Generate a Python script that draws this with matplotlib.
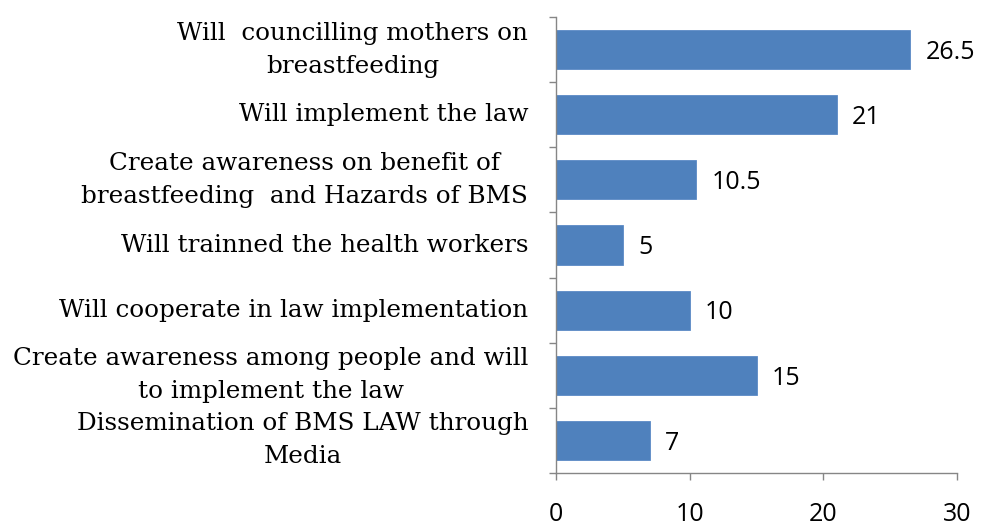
import matplotlib
matplotlib.use("Agg")
import matplotlib.pyplot as plt

categories = [
    "Will  councilling mothers on\nbreastfeeding",
    "Will implement the law",
    "Create awareness on benefit of\nbreastfeeding  and Hazards of BMS",
    "Will trainned the health workers",
    "Will cooperate in law implementation",
    "Create awareness among people and will\nto implement the law",
    "Dissemination of BMS LAW through\nMedia",
]
values = [26.5, 21, 10.5, 5, 10, 15, 7]
value_labels = ["26.5", "21", "10.5", "5", "10", "15", "7"]
xticks = [0, 10, 20, 30]

bar_color = "#4F81BD"
axis_color = "#868686"

fig = plt.figure(figsize=(9.81, 5.28), dpi=100)
ax = fig.add_axes([556/981, 1-473/528, (957-556)/981, (473-17)/528])

pos = list(range(len(categories)))
ax.barh(pos, values, height=0.6, color=bar_color, edgecolor="#5B8AC6", linewidth=0.6)
ax.set_ylim(len(categories)-0.5, -0.5)
ax.set_xlim(0, 30)

for p, v, lab in zip(pos, values, value_labels):
    ax.annotate(lab, (v, p), xytext=(11, -2), textcoords="offset points",
                ha="left", va="center", fontsize=18, family="Open Sans", color="black")

ax.set_yticks([p + 0.5 for p in [-1] + pos], minor=False)
ax.set_yticklabels([])
ax.set_yticks(pos, minor=True)
ax.set_yticklabels(categories, minor=True, family="DejaVu Serif", fontsize=17.7,
                   multialignment="center", linespacing=1.55)
for t in ax.get_yticklabels(minor=True):
    t.set_verticalalignment("center")
ax.tick_params(axis="y", which="minor", length=0, pad=20)
ax.tick_params(axis="y", which="major", length=5, width=1, color=axis_color, direction="out")

ax.set_xticks(xticks)
ax.set_xticklabels([str(t) for t in xticks], family="Open Sans", fontsize=18)
ax.tick_params(axis="x", length=5, width=1, color=axis_color, direction="out", pad=16)

for s in ["top", "right"]:
    ax.spines[s].set_visible(False)
for s in ["left", "bottom"]:
    ax.spines[s].set_color(axis_color)
    ax.spines[s].set_linewidth(1)

fig.savefig("out.png", dpi=100)
